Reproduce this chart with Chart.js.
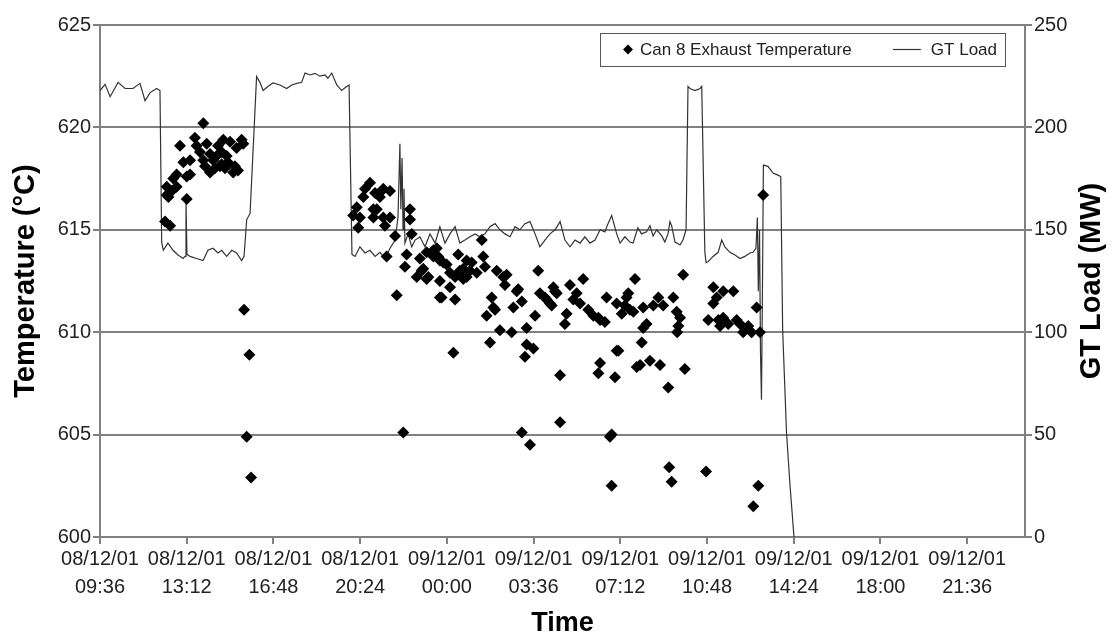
<!DOCTYPE html>
<html>
<head>
<meta charset="utf-8">
<script src="https://cdn.jsdelivr.net/npm/chart.js@4"></script>
<style>
  html, body { margin: 0; padding: 0; background: #fff; }
  #wrap { width: 1114px; height: 638px; position: relative; }
</style>
</head>
<body>
<div id="wrap"><canvas id="exhaustChart"></canvas></div>
<script>
// x values: hours counted from 08/12/01 00:00
const tickHours = [9.6, 13.2, 16.8, 20.4, 24, 27.6, 31.2, 34.8, 38.4, 42, 45.6];
const tickDates = ['08/12/01', '08/12/01', '08/12/01', '08/12/01', '09/12/01', '09/12/01',
  '09/12/01', '09/12/01', '09/12/01', '09/12/01', '09/12/01'];
const tickTimes = ['09:36', '13:12', '16:48', '20:24', '00:00', '03:36',
  '07:12', '10:48', '14:24', '18:00', '21:36'];

const loadHours = [
  9.60, 9.81, 10.02, 10.35, 10.64, 10.97, 11.26, 11.47, 11.68, 11.95,
  12.09, 12.16, 12.23, 12.42, 12.63, 12.84, 13.05, 13.13, 13.17, 13.21,
  13.34, 13.61, 13.88, 14.08, 14.29, 14.50, 14.65, 14.86, 15.07, 15.27,
  15.48, 15.58, 15.69, 15.83, 15.95, 16.10, 16.24, 16.37, 16.57, 16.78,
  17.07, 17.35, 17.56, 17.77, 17.97, 18.11, 18.32, 18.52, 18.73, 18.94,
  19.06, 19.22, 19.43, 19.63, 19.84, 19.94, 20.06, 20.19, 20.39, 20.60,
  20.81, 21.02, 21.22, 21.43, 21.64, 21.85, 21.97, 22.05, 22.09, 22.14,
  22.18, 22.22, 22.26, 22.39, 22.54, 22.68, 22.88, 23.09, 23.30, 23.51,
  23.71, 23.92, 24.13, 24.34, 24.54, 24.75, 24.96, 25.17, 25.37, 25.58,
  25.79, 26.00, 26.20, 26.41, 26.62, 26.83, 27.03, 27.24, 27.45, 27.66,
  27.86, 28.07, 28.28, 28.49, 28.70, 28.90, 29.11, 29.32, 29.53, 29.73,
  29.94, 30.15, 30.36, 30.56, 30.69, 30.84, 31.05, 31.19, 31.39, 31.60,
  31.73, 31.93, 32.08, 32.29, 32.43, 32.56, 32.71, 32.92, 33.05, 33.18,
  33.26, 33.33, 33.47, 33.68, 33.80, 33.93, 34.01, 34.09, 34.30, 34.51,
  34.58, 34.71, 34.76, 34.84, 35.05, 35.26, 35.41, 35.54, 35.75, 35.96,
  36.17, 36.37, 36.58, 36.71, 36.83, 36.89, 36.93, 36.98, 37.02, 37.06,
  37.10, 37.14, 37.33, 37.54, 37.74, 37.86, 37.94, 38.10, 38.24, 38.41
];
const loadMW = [
  218, 221, 215, 222, 219, 219, 221.5, 213, 217, 219,
  218, 144, 140, 143.5, 140, 137.7, 136, 137, 164, 138,
  137, 136, 135, 140, 141, 138.7, 140, 137, 140, 138.7,
  135, 137, 155, 158, 187.5, 224.8, 222, 218, 220, 221.7,
  220.7, 219, 220.7, 221.5, 222, 226.5, 225.6, 226.4, 225, 225.6,
  224, 226.5, 220.7, 218, 220, 220.7, 138, 137, 141.7, 138.7,
  140, 137, 139, 136, 141, 145, 156, 192, 160, 185,
  150, 170, 143.5, 148, 141.7, 145, 146.6, 141.7, 148, 143.5,
  151.5, 143.5, 148, 151.5, 143.5, 145, 146.6, 148, 146.6, 148,
  151.5, 153, 150, 148, 146.6, 151.5, 150, 153, 154, 148,
  141.7, 145, 148, 150, 154, 145, 141.7, 145, 143.5, 146.6,
  143.5, 145, 150, 149, 153, 157, 148, 143.5, 146.6, 144,
  143.5, 151, 148, 149, 152, 147, 150, 147, 144, 148,
  154, 152, 144, 142.6, 145, 150, 220, 219, 218, 219,
  220, 139, 134, 134.4, 137, 139, 145, 141.7, 139, 137.7,
  136, 137, 138.7, 139, 141, 156, 120, 150, 90, 67,
  120, 181.6, 181, 177.7, 176.7, 176, 101, 51, 26, 0
];

const tempHours = [
  13.89, 12.92, 13.54, 13.61, 14.03, 14.72, 15.00, 15.48, 15.55, 13.75,
  14.17, 14.44, 14.65, 14.86, 15.27, 13.06, 13.34, 13.89, 14.30, 14.65,
  13.96, 14.17, 14.37, 14.58, 14.79, 15.20, 15.13, 13.34, 12.78, 12.64,
  13.20, 12.37, 12.78, 12.58, 12.44, 13.20, 12.30, 12.51, 12.37, 15.33,
  14.91, 14.50, 15.58, 15.80, 15.69, 15.87,
  20.81, 20.60, 21.02, 21.36, 20.53, 21.09, 20.26, 20.39, 21.36, 20.32,
  21.50, 21.43, 21.29, 21.64, 21.22, 20.95, 20.11, 20.95, 21.64, 21.85,
  21.92, 22.19,
  22.47, 22.47, 22.54, 22.33, 22.26, 22.88, 23.16, 23.58, 23.44, 23.71,
  23.99, 22.75, 23.16, 23.71, 23.02, 24.13, 24.47, 24.82, 24.68, 25.03,
  24.34, 24.82, 25.24, 25.51, 25.45, 25.58, 24.13, 23.71, 24.34, 26.07,
  26.34, 26.41, 25.86, 26.96, 27.11, 25.93, 26.76, 25.65, 26.20, 26.69,
  27.31, 27.79, 27.86, 28.14, 28.42, 28.56, 28.35, 27.66, 25.79, 24.27,
  27.24, 27.59, 28.70, 28.97, 29.11, 29.39, 29.25, 29.53, 29.66, 29.87,
  30.08, 30.36, 30.56, 30.63, 31.05, 31.46, 31.60, 31.81, 31.05, 30.36,
  30.29, 30.98, 31.88, 27.11, 27.45, 28.70, 30.84, 30.77, 30.84, 23.23,
  23.44, 23.85, 24.54, 24.96, 24.68, 28.90, 27.31, 30.29, 28.07, 28.28,
  28.49, 26.90, 26.48, 26.00, 22.95, 23.78, 23.64,
  33.81, 31.53, 31.39, 31.74, 31.26, 32.15, 32.57, 32.78, 32.98, 33.40,
  33.54, 33.68, 32.29, 32.15, 33.61, 33.56, 32.09, 31.12, 32.43, 32.02,
  32.85, 33.88, 33.19, 33.23, 33.33, 34.76, 35.06, 35.47, 35.89, 35.20,
  35.06, 34.85, 35.27, 35.47, 35.68, 36.03, 36.17, 36.51, 36.30, 36.65,
  36.86, 37.00, 35.34, 37.13, 36.93, 36.72
];
const tempC = [
  620.2, 619.1, 619.5, 619.1, 619.2, 619.4, 619.3, 619.4, 619.2, 618.8,
  618.7, 618.6, 618.8, 618.6, 619.0, 618.3, 618.4, 618.4, 618.4, 618.2,
  618.1, 617.8, 618.0, 618.1, 618.0, 618.1, 617.8, 617.7, 617.7, 617.5,
  617.6, 617.1, 617.1, 616.9, 616.6, 616.5, 615.4, 615.2, 616.7, 617.9,
  618.3, 619.1, 611.1, 608.9, 604.9, 602.9,
  617.3, 617.0, 616.8, 617.0, 616.6, 616.0, 616.1, 615.6, 615.6, 615.1,
  613.7, 615.2, 616.9, 616.9, 616.6, 616.0, 615.7, 615.6, 615.6, 614.7,
  611.8, 605.1,
  616.0, 615.5, 614.8, 613.8, 613.2, 613.6, 613.9, 614.1, 613.7, 613.5,
  613.3, 612.7, 612.6, 612.5, 613.1, 612.9, 613.8, 613.5, 613.1, 613.4,
  612.7, 612.7, 612.9, 613.7, 614.5, 613.2, 612.2, 611.7, 611.6, 613.0,
  612.7, 612.3, 611.7, 612.1, 611.5, 611.2, 611.2, 610.8, 610.1, 610.0,
  610.2, 613.0, 611.9, 611.6, 612.2, 611.9, 611.3, 610.8, 609.5, 609.0,
  608.8, 609.2, 607.9, 610.9, 612.3, 611.9, 611.6, 611.4, 612.6, 611.1,
  610.8, 610.6, 610.5, 611.7, 611.4, 611.7, 611.1, 612.6, 609.1, 608.5,
  608.0, 607.8, 608.3, 605.1, 604.5, 605.6, 605.0, 604.9, 602.5, 612.7,
  614.0, 613.4, 613.0, 613.0, 612.6, 610.4, 609.4, 610.7, 611.7, 611.4,
  612.0, 612.0, 612.8, 611.1, 613.0, 611.7, 613.7,
  612.8, 611.9, 611.3, 611.0, 610.9, 611.2, 611.3, 611.7, 611.3, 611.7,
  611.0, 610.7, 610.4, 610.2, 610.3, 610.0, 609.5, 609.1, 608.6, 608.4,
  608.4, 608.2, 607.3, 603.4, 602.7, 603.2, 612.2, 612.0, 612.0, 611.7,
  611.4, 610.6, 610.6, 610.7, 610.4, 610.6, 610.4, 610.3, 610.0, 610.0,
  611.2, 610.0, 610.3, 616.7, 602.5, 601.5
];

const FONT = '"Liberation Sans", Arial, Helvetica, sans-serif';
const GRID = '#808080';
const rightTitle = 'GT Load (MW)';

// legend box inside the plot, and the right axis title read bottom-to-top
const boxLegend = {
  id: 'boxLegend',
  afterDraw(chart) {
    const { ctx, chartArea } = chart;
    const ds = chart.data.datasets;
    const right = chartArea.right - 20, top = chartArea.top + 8;
    const w = 405, h = 33, left = right - w, mid = top + h / 2;
    ctx.save();
    ctx.fillStyle = '#fff';
    ctx.fillRect(left, top, w, h);
    ctx.strokeStyle = '#555';
    ctx.lineWidth = 1;
    ctx.strokeRect(left + 0.5, top + 0.5, w, h);

    ctx.fillStyle = '#000';
    ctx.beginPath();
    ctx.moveTo(left + 28, mid - 5);
    ctx.lineTo(left + 33, mid);
    ctx.lineTo(left + 28, mid + 5);
    ctx.lineTo(left + 23, mid);
    ctx.closePath();
    ctx.fill();

    ctx.font = '17px ' + FONT;
    ctx.fillStyle = '#222';
    ctx.textBaseline = 'middle';
    ctx.textAlign = 'left';
    ctx.fillText(ds[0].label, left + 40, mid + 1);

    const t2w = ctx.measureText(ds[1].label).width;
    const t2x = right - 8 - t2w;
    ctx.strokeStyle = '#333';
    ctx.lineWidth = 1.2;
    ctx.beginPath();
    ctx.moveTo(t2x - 38, mid);
    ctx.lineTo(t2x - 10, mid);
    ctx.stroke();
    ctx.fillText(ds[1].label, t2x, mid + 1);

    ctx.translate(chart.width - 22, (chartArea.top + chartArea.bottom) / 2);
    ctx.rotate(-Math.PI / 2);
    ctx.font = 'bold 29px ' + FONT;
    ctx.fillStyle = '#000';
    ctx.textAlign = 'center';
    ctx.fillText(rightTitle, 0, 0);
    ctx.restore();
  }
};

new Chart(document.getElementById('exhaustChart'), {
  type: 'scatter',
  data: {
    datasets: [{
      label: 'Can 8 Exhaust Temperature',
      data: tempHours.map((h, i) => ({ x: h, y: tempC[i] })),
      yAxisID: 'y',
      pointStyle: 'rectRot',
      pointRadius: 6,
      backgroundColor: '#000',
      borderWidth: 0
    }, {
      label: 'GT Load',
      data: loadHours.map((h, i) => ({ x: h, y: loadMW[i] })),
      yAxisID: 'y2',
      showLine: true,
      pointRadius: 0,
      borderColor: '#333',
      borderWidth: 1.2,
      tension: 0
    }]
  },
  options: {
    responsive: true,
    maintainAspectRatio: false,
    animation: false,
    layout: { padding: { top: 25, left: 0, right: 0, bottom: 0 } },
    plugins: { legend: { display: false }, tooltip: { enabled: false } },
    scales: {
      x: {
        type: 'linear',
        position: 'bottom',
        min: 9.6,
        max: 48,
        afterBuildTicks: (scale) => { scale.ticks = tickHours.map(v => ({ value: v })); },
        afterFit: (scale) => { scale.height = 101; },
        ticks: {
          autoSkip: false,
          maxRotation: 0,
          padding: 1,
          color: '#222',
          font: { family: FONT, size: 20, lineHeight: 1.4 },
          callback: (v, i) => [tickDates[i], tickTimes[i]]
        },
        grid: { drawOnChartArea: false, tickLength: 7, color: GRID, lineWidth: 2 },
        border: { color: GRID, width: 2 },
        title: {
          display: true, text: 'Time', color: '#000',
          font: { family: FONT, size: 27, weight: 'bold' },
          padding: { top: 0, bottom: -2 }
        }
      },
      y: {
        position: 'left',
        min: 600,
        max: 625,
        afterFit: (scale) => { scale.width = 100; },
        ticks: { stepSize: 5, padding: 2, color: '#222', font: { family: FONT, size: 20 } },
        grid: { color: GRID, lineWidth: 2, tickLength: 7 },
        border: { color: GRID, width: 2 },
        title: {
          display: true, text: 'Temperature (°C)', color: '#000',
          font: { family: FONT, size: 29, weight: 'bold' },
          padding: { top: 9, bottom: 0 }
        }
      },
      y2: {
        position: 'right',
        min: 0,
        max: 250,
        afterFit: (scale) => { scale.width = 89; },
        ticks: { stepSize: 50, padding: 2, color: '#222', font: { family: FONT, size: 20 } },
        grid: { drawOnChartArea: false, color: GRID, lineWidth: 2, tickLength: 7 },
        border: { color: GRID, width: 2 }
      }
    }
  },
  plugins: [boxLegend]
});
</script>
</body>
</html>
